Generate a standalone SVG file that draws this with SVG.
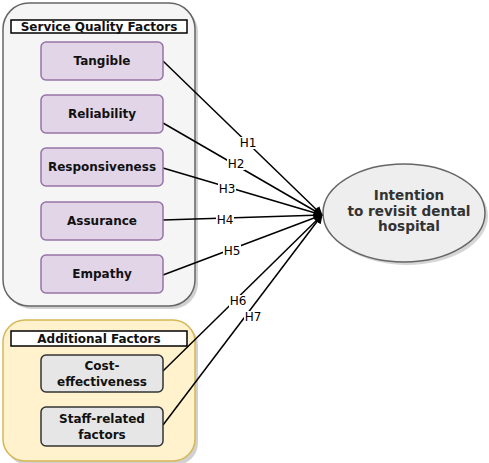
<svg xmlns="http://www.w3.org/2000/svg" width="489" height="463" viewBox="0 0 489 463">
<style>
.t{font-family:"DejaVu Sans",Verdana,sans-serif;font-weight:bold;font-size:12px;fill:#111;text-anchor:middle;dominant-baseline:central}
.e{font-size:13.6px;fill:#333}
.lbl{font-family:"DejaVu Sans",Verdana,sans-serif;font-size:12px;fill:#000;text-anchor:middle;dominant-baseline:central}
.sq{fill:#e1d5e7;stroke:#9673a6;stroke-width:1.5}
.ad{fill:#e6e6e6;stroke:#333;stroke-width:1.5}
.ttl{fill:#fff;stroke:#000;stroke-width:1.5}
.sh{fill:#999;opacity:0.45}
.c{stroke:#000;stroke-width:1.5;fill:none;marker-end:url(#ah)}
</style>
<defs>
<marker id="ah" viewBox="0 0 10 10" refX="9" refY="5" markerWidth="9" markerHeight="9" markerUnits="userSpaceOnUse" orient="auto">
<path d="M0,0 L10,5 L0,10 z" fill="#000"/>
</marker>
</defs>
<rect width="489" height="463" fill="#fff"/>
<g id="service-quality-container">
<rect class="sh" x="6" y="6" width="192" height="303" rx="26"/>
<rect x="3" y="3" width="192" height="303" rx="26" fill="#f5f5f5" stroke="#666" stroke-width="1.5"/>
<rect class="ttl" x="11" y="20" width="176" height="13"/>
<text class="t" x="99" y="27">Service Quality Factors</text>
</g>
<g id="additional-container">
<rect class="sh" x="6" y="323" width="192" height="142" rx="22"/>
<rect x="3" y="320" width="192" height="141" rx="22" fill="#fff2cc" stroke="#d6b656" stroke-width="1.5"/>
<rect class="ttl" x="11" y="331" width="176" height="15"/>
<text class="t" x="99" y="339">Additional Factors</text>
</g>
<g id="connectors">
<line class="c" x1="163" y1="61" x2="322" y2="215"/>
<line class="c" x1="163" y1="123" x2="322" y2="215"/>
<line class="c" x1="163" y1="168" x2="322" y2="215"/>
<line class="c" x1="163" y1="220" x2="322" y2="215"/>
<line class="c" x1="163" y1="275" x2="322" y2="215"/>
<line class="c" x1="163" y1="371" x2="322" y2="215"/>
<line class="c" x1="163" y1="425" x2="322" y2="215"/>
<g>
<rect x="239" y="137" width="18" height="12" fill="#fff"/><text class="lbl" x="248" y="143">H1</text>
<rect x="227" y="158" width="18" height="12" fill="#fff"/><text class="lbl" x="236" y="164">H2</text>
<rect x="218" y="183" width="18" height="12" fill="#fff"/><text class="lbl" x="227" y="189">H3</text>
<rect x="216" y="214" width="18" height="12" fill="#fff"/><text class="lbl" x="225" y="220">H4</text>
<rect x="223" y="245" width="18" height="12" fill="#fff"/><text class="lbl" x="232" y="251">H5</text>
<rect x="229" y="295" width="18" height="12" fill="#fff"/><text class="lbl" x="238" y="301">H6</text>
<rect x="244" y="311" width="18" height="12" fill="#fff"/><text class="lbl" x="253" y="317">H7</text>
</g>
</g>
<g id="tangible"><rect class="sq" x="41" y="42" width="122" height="38" rx="5"/><text class="t" x="102" y="61">Tangible</text></g>
<g id="reliability"><rect class="sq" x="41" y="95" width="122" height="38" rx="5"/><text class="t" x="102" y="114">Reliability</text></g>
<g id="responsiveness"><rect class="sq" x="41" y="148" width="122" height="38" rx="5"/><text class="t" x="102" y="167">Responsiveness</text></g>
<g id="assurance"><rect class="sq" x="41" y="202" width="122" height="38" rx="5"/><text class="t" x="102" y="221">Assurance</text></g>
<g id="empathy"><rect class="sq" x="41" y="255" width="122" height="38" rx="5"/><text class="t" x="102" y="274">Empathy</text></g>
<g id="cost-effectiveness"><rect class="ad" x="41" y="355" width="122" height="37" rx="5"/><text class="t" x="102" y="366">Cost-</text><text class="t" x="102" y="382">effectiveness</text></g>
<g id="staff-related"><rect class="ad" x="41" y="407" width="122" height="39" rx="5"/><text class="t" x="102" y="419">Staff-related</text><text class="t" x="102" y="435">factors</text></g>
<g id="intention">
<ellipse cx="407" cy="216" rx="81" ry="49" fill="#999" opacity="0.4"/>
<ellipse cx="404" cy="213" rx="81" ry="49" fill="#eeeeee" stroke="#666" stroke-width="1.5"/>
<text class="t e" x="409" y="195">Intention</text>
<text class="t e" x="409" y="211">to revisit dental</text>
<text class="t e" x="409" y="226">hospital</text>
</g>
</svg>
